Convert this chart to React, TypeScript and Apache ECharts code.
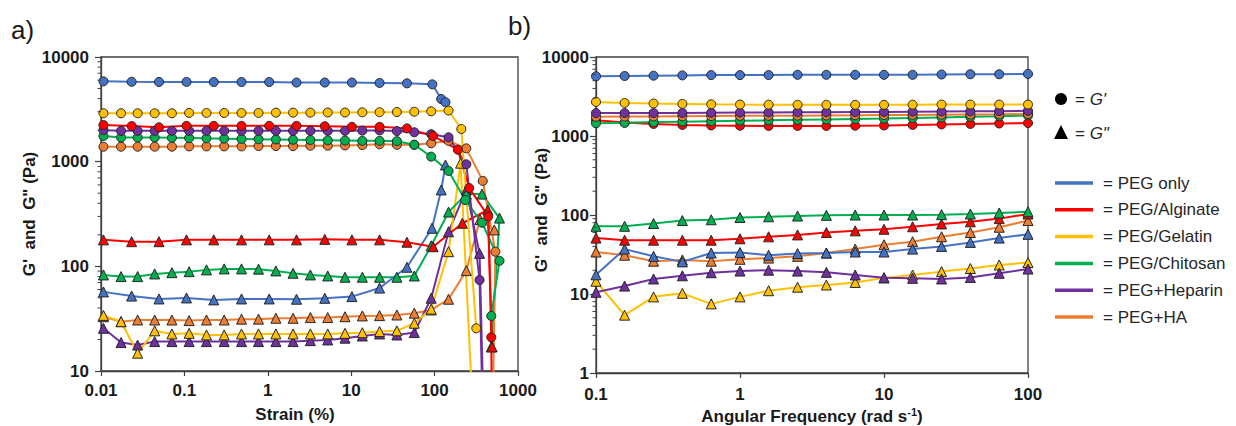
import React, { useEffect, useRef } from "react";
import * as echarts from "echarts";

const FONT = "'Liberation Sans', Arial, Helvetica, sans-serif";
const AXIS_COLOR = "#404040";
const TEXT_COLOR = "#1a1a1a";

// ---------- Panel a: strain sweep ----------
const strainSparse = [0.0107, 0.0233, 0.0496, 0.106, 0.225, 0.484, 1.04, 2.21, 4.82, 10.2, 21.9, 46.6];
const strainDense = [0.0107, 0.0174, 0.0275, 0.044, 0.0708, 0.114, 0.184, 0.3, 0.484, 0.774, 1.25, 2.01, 3.24, 5.23, 8.43, 13.6, 21.9, 35.3, 57.1, 91, 147];

const pegOnlyGpStrainA = [...strainSparse, 94, 120, 135];
const pegOnlyGpA = [5850, 5800, 5780, 5780, 5770, 5770, 5770, 5700, 5700, 5700, 5650, 5600, 5480, 3970, 3700];
const pegOnlyGppStrainA = [...strainSparse, 93, 120, 135];
const pegOnlyGppA = [57, 52, 48.8, 49.9, 47.8, 48.8, 48.8, 48.5, 49.5, 51.4, 62, 98, 231, 537, 930];

const alginateGpStrainA = [...strainSparse, 96, 190, 260, 440, 478, 490];
const alginateGpA = [2240, 2190, 2130, 2200, 2200, 2200, 2200, 2200, 2180, 2150, 2150, 2080, 1760, 1300, 560, 300, 21, 2];
const alginateGppStrainA = [...strainSparse, 96, 215, 435, 490];
const alginateGppA = [179, 172, 172, 179, 179, 179, 179, 179, 181, 179, 179, 170, 154, 258, 346, 17];

const gelatinGpStrainA = [...strainDense, 209, 316];
const gelatinGpA = [2900, 2900, 2900, 2900, 2900, 2920, 2920, 2920, 2920, 2920, 2940, 2940, 2940, 2950, 2950, 2960, 2970, 2980, 3000, 3030, 3080, 2050, 25.6];
const gelatinGppStrainA = [...strainDense, 205, 300];
const gelatinGppA = [34, 29.6, 14.8, 24.2, 22.6, 22.9, 22.1, 22.1, 22.6, 22.6, 22.6, 22.6, 22.6, 22.6, 22.9, 23.2, 23.8, 24.2, 28.6, 39, 138, 967, 2];

const chitosanGpStrainA = [...strainDense, 233, 370, 600, 478];
const chitosanGpA = [1760, 1700, 1700, 1700, 1690, 1680, 1670, 1660, 1650, 1640, 1630, 1620, 1610, 1600, 1590, 1580, 1580, 1570, 1450, 1117, 815, 430, 261, 113, 33.6];
const chitosanGppStrainA = [...strainDense, 240, 370, 600, 478];
const chitosanGppA = [82.8, 79.8, 79.8, 84.6, 87, 89, 92.5, 94.5, 94.5, 94, 90.4, 85.9, 82.8, 80.9, 78.7, 78.7, 78.7, 78.7, 80.9, 157, 330, 490, 490, 289, 17];

const heparinGpStrainA = [...strainDense, 240, 346, 385];
const heparinGpA = [2000, 1970, 1970, 1970, 1970, 1970, 1970, 1970, 1970, 1970, 1970, 1970, 1970, 1970, 1970, 1980, 1990, 1960, 1910, 1830, 1710, 944, 74, 2];
const heparinGppStrainA = [...strainDense, 240, 346, 395];
const heparinGppA = [25.6, 18.7, 17.7, 19.1, 19.1, 19.1, 19.1, 19.1, 19.1, 19.1, 19.1, 19.1, 19.5, 19.8, 20.6, 21.6, 22.6, 22.1, 23.3, 49.6, 214, 537, 133, 2];

const haGpStrainA = [...strainDense, 240, 378, 535, 490];
const haGpA = [1390, 1390, 1390, 1390, 1390, 1400, 1400, 1400, 1400, 1410, 1410, 1410, 1420, 1420, 1430, 1440, 1466, 1450, 1450, 1500, 1580, 1340, 655, 138, 2];
const haGppStrainA = [...strainDense, 240, 350, 520];
const haGppA = [33, 29.6, 30.7, 30.7, 30.7, 30.3, 30.7, 30.7, 31.3, 31.3, 31.9, 31.9, 32.4, 32.4, 33, 33.6, 33.8, 34.3, 35.7, 38.3, 48.5, 91, 280, 223];

// ---------- Panel b: frequency sweep ----------
const freq = [0.1, 0.158, 0.251, 0.398, 0.631, 1, 1.58, 2.51, 3.98, 6.31, 10, 15.8, 25.1, 39.8, 63.1, 100];
const pegOnlyGpB = [5700, 5750, 5800, 5850, 5900, 5900, 5900, 5950, 5950, 5950, 5950, 5950, 6000, 6050, 6050, 6100];
const pegOnlyGppB = [17.5, 37, 30, 25.5, 33, 33.5, 31, 32.5, 33, 34, 34, 37, 40, 45, 51, 57];
const alginateGpB = [1580, 1480, 1420, 1380, 1360, 1350, 1340, 1340, 1340, 1350, 1360, 1380, 1400, 1420, 1440, 1460];
const alginateGppB = [51, 48, 48, 48, 48, 50, 53, 56, 60, 63, 66, 71, 77, 82, 90, 103];
const gelatinGpB = [2700, 2620, 2580, 2550, 2520, 2500, 2490, 2480, 2480, 2480, 2480, 2490, 2500, 2500, 2500, 2500];
const gelatinGppB = [14.5, 5.4, 9.2, 10.2, 7.5, 9.2, 11, 12.2, 13, 14, 16, 17.4, 19.2, 21, 23.3, 25];
const chitosanGpB = [1450, 1470, 1500, 1520, 1540, 1560, 1580, 1600, 1620, 1640, 1660, 1690, 1720, 1750, 1780, 1820];
const chitosanGppB = [72, 72, 78, 85, 87, 93, 95, 97, 99, 100, 100, 100, 101, 103, 106, 110];
const heparinGpB = [1950, 1950, 1950, 1960, 1970, 1980, 1990, 2000, 2000, 2010, 2020, 2030, 2040, 2050, 2060, 2080];
const heparinGppB = [10.5, 12.6, 15.5, 17, 18.6, 19.5, 20, 19.5, 18.8, 17.4, 16.1, 15.8, 15.5, 16.2, 18.3, 20.7];
const haGpB = [1750, 1760, 1770, 1780, 1790, 1800, 1800, 1810, 1820, 1830, 1840, 1850, 1860, 1870, 1880, 1900];
const haGppB = [34, 31, 26, 27, 26, 27.5, 28.5, 30, 33, 37, 42, 46, 53, 60, 70, 85];

// ---------- axes / legend ----------
const minorTicksA = [20, 30, 40, 50, 60, 70, 80, 90, 200, 300, 400, 500, 600, 700, 800, 900, 2000, 3000, 4000, 5000, 6000, 7000, 8000, 9000];
const minorTicksB = [2, 3, 4, 5, 6, 7, 8, 9, 20, 30, 40, 50, 60, 70, 80, 90, 200, 300, 400, 500, 600, 700, 800, 900, 2000, 3000, 4000, 5000, 6000, 7000, 8000, 9000];
const legendNames = ["PEG only", "PEG/Alginate", "PEG/Gelatin", "PEG/Chitosan", "PEG+Heparin", "PEG+HA"];
const legendColors = ["#4472C4", "#FF0000", "#FFC000", "#00B050", "#7030A0", "#ED7D31"];

const fmt = (v: number) => {
  const p = Math.round(Math.log10(v));
  return p < 0 ? v.toFixed(-p) : String(Math.round(v));
};

function lineSeries(xs: number[], ys: number[], color: string, symbol: string, xi: number) {
  return {
    type: "line",
    xAxisIndex: xi,
    yAxisIndex: xi,
    data: xs.map((x, i) => [x, ys[i]]),
    symbol,
    symbolSize: symbol === "circle" ? 9 : 10,
    showSymbol: true,
    clip: true,
    lineStyle: { color, width: 2 },
    itemStyle: { color, borderColor: "#262626", borderWidth: 1 },
    silent: true,
  };
}

function minorSeries(vals: number[], xmin: number, xi: number) {
  return {
    type: "custom",
    xAxisIndex: xi,
    yAxisIndex: xi,
    silent: true,
    z: 10,
    data: vals.map((v) => [xmin, v]),
    renderItem: (_p: any, api: any) => {
      const pt = api.coord([api.value(0), api.value(1)]);
      return {
        type: "line",
        shape: { x1: pt[0] - 3.5, y1: pt[1], x2: pt[0], y2: pt[1] },
        style: { stroke: AXIS_COLOR, lineWidth: 1 },
      };
    },
  };
}

function logAxis(gi: number, min: number, max: number, isY: boolean, margin: number) {
  return {
    type: "log",
    logBase: 10,
    gridIndex: gi,
    min,
    max,
    axisLine: { show: true, onZero: false, lineStyle: { color: AXIS_COLOR, width: 1.3 } },
    axisTick: { show: true, inside: false, length: isY ? 6 : 5, lineStyle: { color: AXIS_COLOR, width: 1.2 } },
    axisLabel: { formatter: fmt, color: TEXT_COLOR, fontSize: 17, fontWeight: "bold", fontFamily: FONT, margin },
    splitLine: { show: false },
    minorTick: { show: false },
  };
}

function txt(x: number, y: number, text: string, extra: any = {}, rotation = 0) {
  return {
    type: "text",
    x,
    y,
    rotation,
    silent: true,
    style: {
      text,
      fill: TEXT_COLOR,
      fontFamily: FONT,
      fontSize: 17,
      textAlign: "center",
      align: "center",
      textVerticalAlign: "middle",
      verticalAlign: "middle",
      ...extra,
    },
  };
}

export default function App() {
  const ref = useRef<HTMLDivElement>(null);
  useEffect(() => {
    if (!ref.current) return;
    const chart = echarts.init(ref.current, undefined, { renderer: "svg" });
    const [cBlue, cRed, cYellow, cGreen, cPurple, cOrange] = legendColors;

    const seriesA = [
      lineSeries(haGppStrainA, haGppA, cOrange, "triangle", 0),
      lineSeries(heparinGppStrainA, heparinGppA, cPurple, "triangle", 0),
      lineSeries(gelatinGppStrainA, gelatinGppA, cYellow, "triangle", 0),
      lineSeries(chitosanGppStrainA, chitosanGppA, cGreen, "triangle", 0),
      lineSeries(pegOnlyGppStrainA, pegOnlyGppA, cBlue, "triangle", 0),
      lineSeries(alginateGppStrainA, alginateGppA, cRed, "triangle", 0),
      lineSeries(haGpStrainA, haGpA, cOrange, "circle", 0),
      lineSeries(chitosanGpStrainA, chitosanGpA, cGreen, "circle", 0),
      lineSeries(heparinGpStrainA, heparinGpA, cPurple, "circle", 0),
      lineSeries(alginateGpStrainA, alginateGpA, cRed, "circle", 0),
      lineSeries(gelatinGpStrainA, gelatinGpA, cYellow, "circle", 0),
      lineSeries(pegOnlyGpStrainA, pegOnlyGpA, cBlue, "circle", 0),
    ];
    const seriesB = [
      lineSeries(freq, gelatinGppB, cYellow, "triangle", 1),
      lineSeries(freq, heparinGppB, cPurple, "triangle", 1),
      lineSeries(freq, haGppB, cOrange, "triangle", 1),
      lineSeries(freq, pegOnlyGppB, cBlue, "triangle", 1),
      lineSeries(freq, alginateGppB, cRed, "triangle", 1),
      lineSeries(freq, chitosanGppB, cGreen, "triangle", 1),
      lineSeries(freq, alginateGpB, cRed, "circle", 1),
      lineSeries(freq, chitosanGpB, cGreen, "circle", 1),
      lineSeries(freq, haGpB, cOrange, "circle", 1),
      lineSeries(freq, heparinGpB, cPurple, "circle", 1),
      lineSeries(freq, gelatinGpB, cYellow, "circle", 1),
      lineSeries(freq, pegOnlyGpB, cBlue, "circle", 1),
    ];

    const legendEls: any[] = [];
    legendNames.forEach((n, i) => {
      const y = 183 + i * 26.8;
      legendEls.push({
        type: "line",
        silent: true,
        shape: { x1: 1055, y1: y, x2: 1093, y2: y },
        style: { stroke: legendColors[i], lineWidth: 3.5 },
      });
      legendEls.push(txt(1103, y, "= " + n, { textAlign: "left", align: "left", fill: "#262626", fontSize: 17 }));
    });

    const option: any = {
      animation: false,
      backgroundColor: "#ffffff",
      grid: [
        { left: 101, top: 57, width: 417, height: 314, show: true, borderColor: AXIS_COLOR, borderWidth: 1.3, backgroundColor: "transparent" },
        { left: 596, top: 57, width: 432, height: 316, show: true, borderColor: AXIS_COLOR, borderWidth: 1.3, backgroundColor: "transparent" },
      ],
      xAxis: [logAxis(0, 0.01, 1000, false, 11), logAxis(1, 0.1, 100, false, 13)],
      yAxis: [logAxis(0, 10, 10000, true, 12), logAxis(1, 1, 10000, true, 7)],
      series: [...seriesA, ...seriesB, minorSeries(minorTicksA, 0.01, 0), minorSeries(minorTicksB, 0.1, 1)],
      graphic: [
        txt(11, 30, "a)", { textAlign: "left", align: "left", fontSize: 26 }),
        txt(508, 26, "b)", { textAlign: "left", align: "left", fontSize: 26 }),
        txt(29, 214, "G'  and  G\" (Pa)", { fontWeight: "bold" }, Math.PI / 2),
        txt(541, 210, "G'  and  G\" (Pa)", { fontWeight: "bold" }, Math.PI / 2),
        txt(295, 414, "Strain (%)", { fontWeight: "bold" }),
        txt(812, 416, "", {
          text: "{a|Angular Frequency (rad s}{s|-1}{a|)}",
          rich: {
            a: { fontSize: 17, fontWeight: "bold", fontFamily: FONT, fill: TEXT_COLOR, lineHeight: 20 },
            s: { fontSize: 11, fontWeight: "bold", fontFamily: FONT, fill: TEXT_COLOR, verticalAlign: "top", lineHeight: 20, padding: [0, 0, 8, 0] },
          },
        }),
        { type: "circle", silent: true, shape: { cx: 1061, cy: 99, r: 6 }, style: { fill: "#000" } },
        txt(1075, 99, "", {
          textAlign: "left",
          align: "left",
          text: "{n|= }{i|G'}",
          rich: {
            n: { fontSize: 17, fontFamily: FONT, fill: "#262626" },
            i: { fontSize: 17, fontFamily: FONT, fill: "#262626", fontStyle: "italic" },
          },
        }),
        { type: "polygon", silent: true, shape: { points: [[1054, 139], [1068, 139], [1061, 125]] }, style: { fill: "#000" } },
        txt(1075, 133, "", {
          textAlign: "left",
          align: "left",
          text: "{n|= }{i|G\"}",
          rich: {
            n: { fontSize: 17, fontFamily: FONT, fill: "#262626" },
            i: { fontSize: 17, fontFamily: FONT, fill: "#262626", fontStyle: "italic" },
          },
        }),
        ...legendEls,
      ],
    };
    chart.setOption(option);
    return () => chart.dispose();
  }, []);
  return <div ref={ref} style={{ position: "absolute", left: 0, top: 0, width: 1236, height: 426 }} />;
}
